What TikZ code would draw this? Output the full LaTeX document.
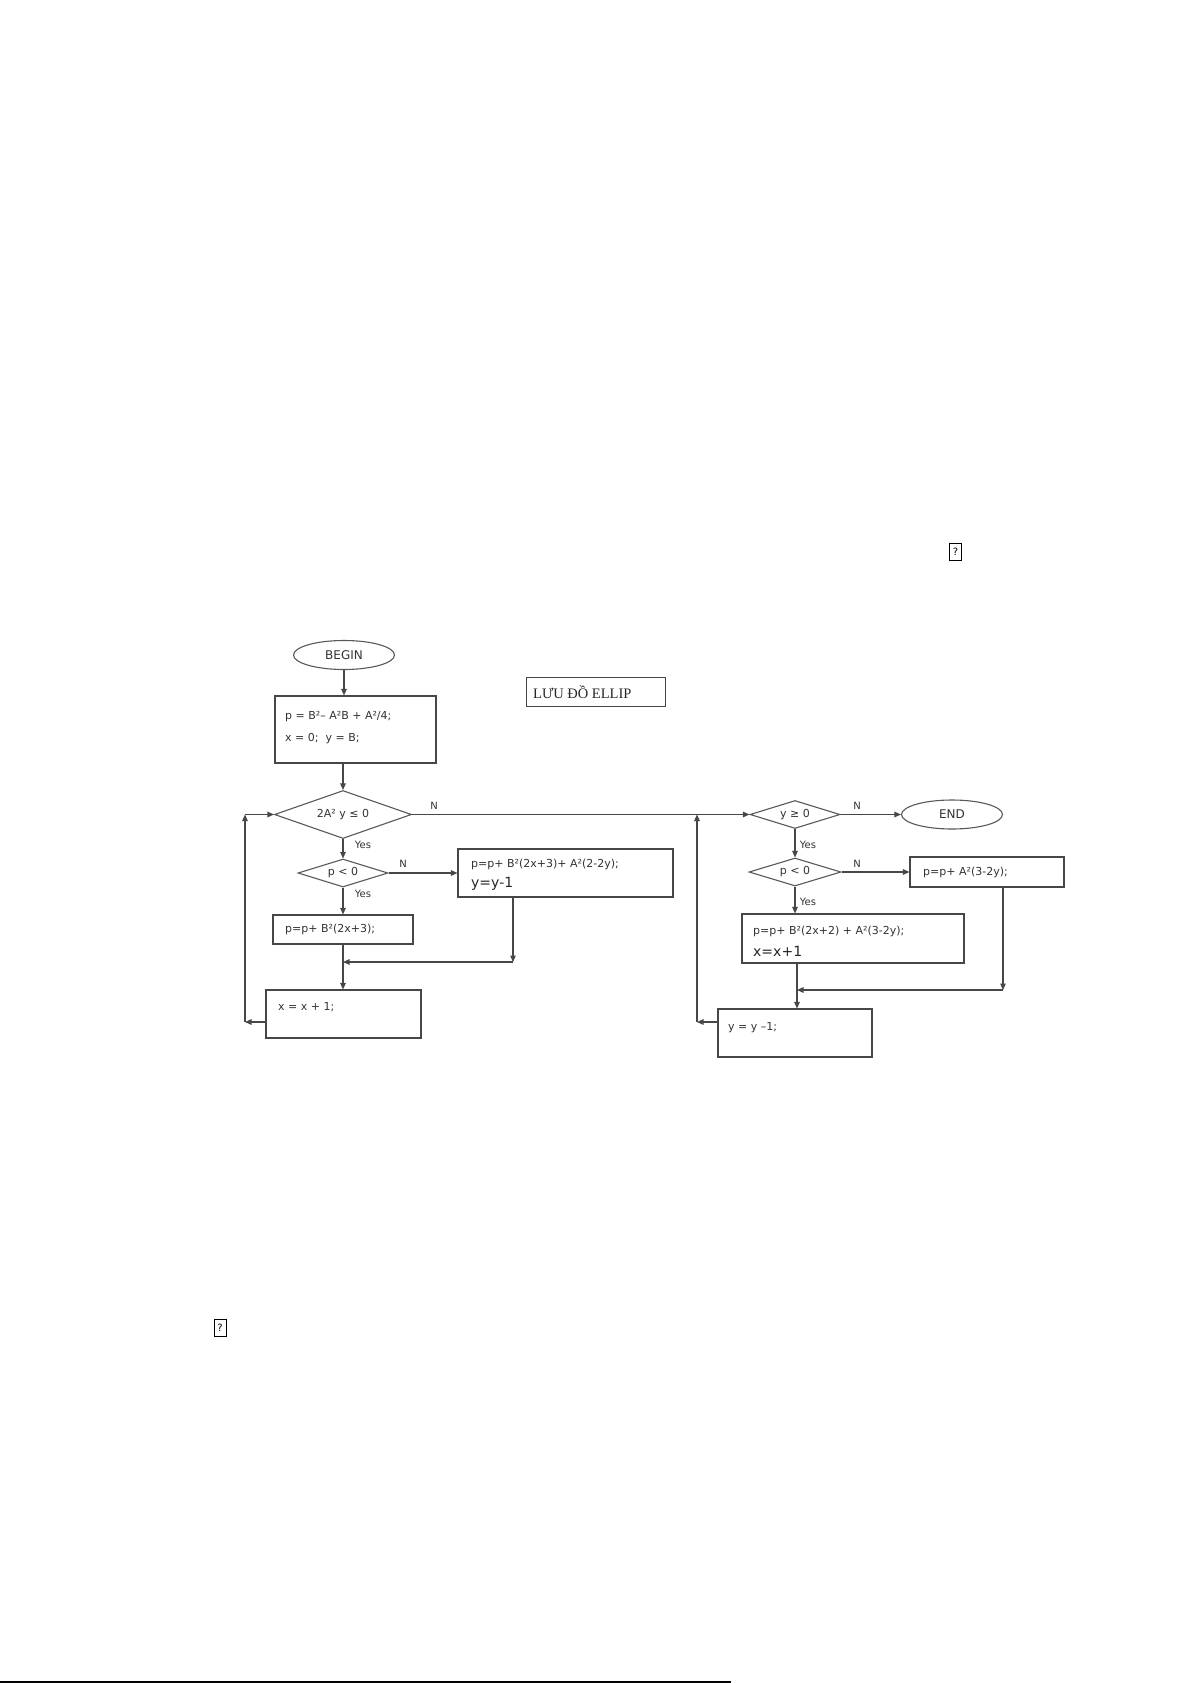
\documentclass[tikz,border=0pt]{standalone}
\usepackage{fontspec}
\setmainfont{DejaVu Sans}
\newfontfamily\vnserif{Liberation Serif}
\usetikzlibrary{shapes.geometric,arrows.meta}
\newcommand\myfs{\fontsize{11}{12}\selectfont}
\newcommand\mytfs{\fontsize{12}{13}\selectfont}
\newcommand\mybig{\fontsize{14}{16}\selectfont}
\newcommand\mylbl{\fontsize{10}{11}\selectfont}
\tikzset{
  ln/.style={draw=black!72, line width=1.1pt},
  arr/.style={ln, -{Triangle[length=6.5pt,width=5.5pt]}},
  box/.style={draw=black!72, line width=1.1pt, rectangle, inner sep=0pt},
  dec/.style={draw=black!65, line width=1.1pt, diamond, inner sep=0pt, text=black!80, font=\myfs},
  term/.style={draw=black!65, line width=1.1pt, ellipse, inner sep=0pt, text=black!80, font=\mytfs},
  txt/.style={anchor=west, inner sep=0pt, text=black!80, font=\myfs},
  bigtxt/.style={anchor=west, inner sep=0pt, text=black!85, font=\mybig},
  lbl/.style={inner sep=0pt, text=black!80, font=\mylbl},
  tofu/.style={draw, line width=0.8pt, minimum width=12pt, minimum height=17pt, inner sep=0pt, font=\fontsize{10}{10}\selectfont}
}
\begin{document}
\begin{tikzpicture}[x=1pt,y=-1pt]
\useasboundingbox (0,0) rectangle (1192,1683);
\fill[white] (0,0) rectangle (1192,1683);

% stray missing-glyph boxes
\node[tofu] (q1) at (955.5,552) {?};
\node[tofu] (q2) at (220,1327.5) {?};

% title
\node[box, minimum width=139pt, minimum height=29pt] (title) at (596,692) {};
\node[anchor=west, inner sep=0pt, text=black!85, font=\vnserif\fontsize{14.5}{15}\selectfont] (titletxt) at (533,692) {LƯU ĐỒ ELLIP};

% left part
\node[term, minimum width=101pt, minimum height=29pt] (begin) at (344,655) {BEGIN};
\node[box, minimum width=161pt, minimum height=67pt] (init) at (355.5,729.5) {};
\node[txt] (t1a) at (285,717) {p = B²– A²B + A²/4;};
\node[txt] (t1b) at (285,739) {x = 0;\ \ y = B;};

\node[dec, aspect=2.85, minimum width=137pt, minimum height=48pt] (d1) at (343,814.5) {2A² y ≤ 0};
\node[dec, aspect=3.2, minimum width=90pt, minimum height=28pt] (d2) at (343,873) {p < 0};

\node[box, minimum width=215pt, minimum height=48pt] (box3) at (565.5,873) {};
\node[txt] (t3a) at (471,864) {p=p+ B²(2x+3)+ A²(2-2y);};
\node[bigtxt] (t3b) at (471,884) {y=y-1};

\node[box, minimum width=140pt, minimum height=29pt] (box2) at (343,929.5) {};
\node[txt] (t2) at (285,929.5) {p=p+ B²(2x+3);};

\node[box, minimum width=155pt, minimum height=48pt] (box4) at (343.5,1014) {};
\node[txt] (t4) at (278,1007) {x = x + 1;};

\coordinate (j1) at (513,962);
\coordinate (m1) at (343,962);
\coordinate (lb) at (245,1022);
\coordinate (lt) at (245,814.5);

% right part
\node[dec, aspect=3.2, minimum width=90pt, minimum height=28pt] (d3) at (795,814.5) {y ≥ 0};
\node[term, minimum width=101pt, minimum height=29pt] (end) at (952,814.5) {END};
\node[dec, aspect=3.2, minimum width=92pt, minimum height=28pt] (d4) at (795,872) {p < 0};

\node[box, minimum width=154pt, minimum height=30pt] (box5) at (987,872) {};
\node[txt] (t5) at (923,872) {p=p+ A²(3-2y);};

\node[box, minimum width=222pt, minimum height=49pt] (box6) at (853,938.5) {};
\node[txt] (t6a) at (753,931) {p=p+ B²(2x+2) + A²(3-2y);};
\node[bigtxt] (t6b) at (753,951) {x=x+1};

\node[box, minimum width=154pt, minimum height=48pt] (box7) at (795,1033) {};
\node[txt] (t7) at (728,1028) {y = y –1;};

\coordinate (j2) at (1003,990);
\coordinate (m2) at (797,990);
\coordinate (rb) at (697,1022);

% connectors left
\draw[arr] (begin) -- (begin |- init.north);
\draw[arr] (init.south -| d1) -- (d1.north);
\draw[arr] (d1.south) -- (d2.north);
\draw[arr] (d2.east) -- (d2.east -| box3.west);
\draw[arr] (d2.south) -- (d2.south |- box2.north);
\draw[arr] (box3.south -| j1) -- (j1);
\draw[arr] (j1) -- (m1);
\draw[arr] (box2.south -| m1) -- (box4.north -| m1);
\draw[arr] (box4.west |- lb) -- (lb);
\draw[arr] (lb) -- (lt);
\draw[arr] (lt) -- (d1.west);

% main line
\draw[arr] (d1.east) -- (d3.west);

% connectors right
\draw[arr] (d3.east) -- (end.west);
\draw[arr] (d3.south) -- (d4.north);
\draw[arr] (d4.east) -- (d4.east -| box5.west);
\draw[arr] (d4.south) -- (d4.south |- box6.north);
\draw[arr] (box5.south -| j2) -- (j2);
\draw[arr] (j2) -- (m2);
\draw[arr] (box6.south -| m2) -- (box7.north -| m2);
\draw[arr] (box7.west |- rb) -- (rb);
\draw[arr] (rb) -- (d1.east -| rb);

% labels
\node[lbl] (n1) at (434,806) {N};
\node[lbl] (y1) at (363,845) {Yes};
\node[lbl] (n2) at (403,864) {N};
\node[lbl] (y2) at (363,894) {Yes};
\node[lbl] (n3) at (857,806) {N};
\node[lbl] (y3) at (808,845) {Yes};
\node[lbl] (n4) at (857,864) {N};
\node[lbl] (y4) at (808,902) {Yes};

% footnote rule
\coordinate (r0) at (0,1682);
\coordinate (r1) at (731,1682);
\draw[line width=1.5pt] (r0) -- (r1);
\end{tikzpicture}
\end{document}
